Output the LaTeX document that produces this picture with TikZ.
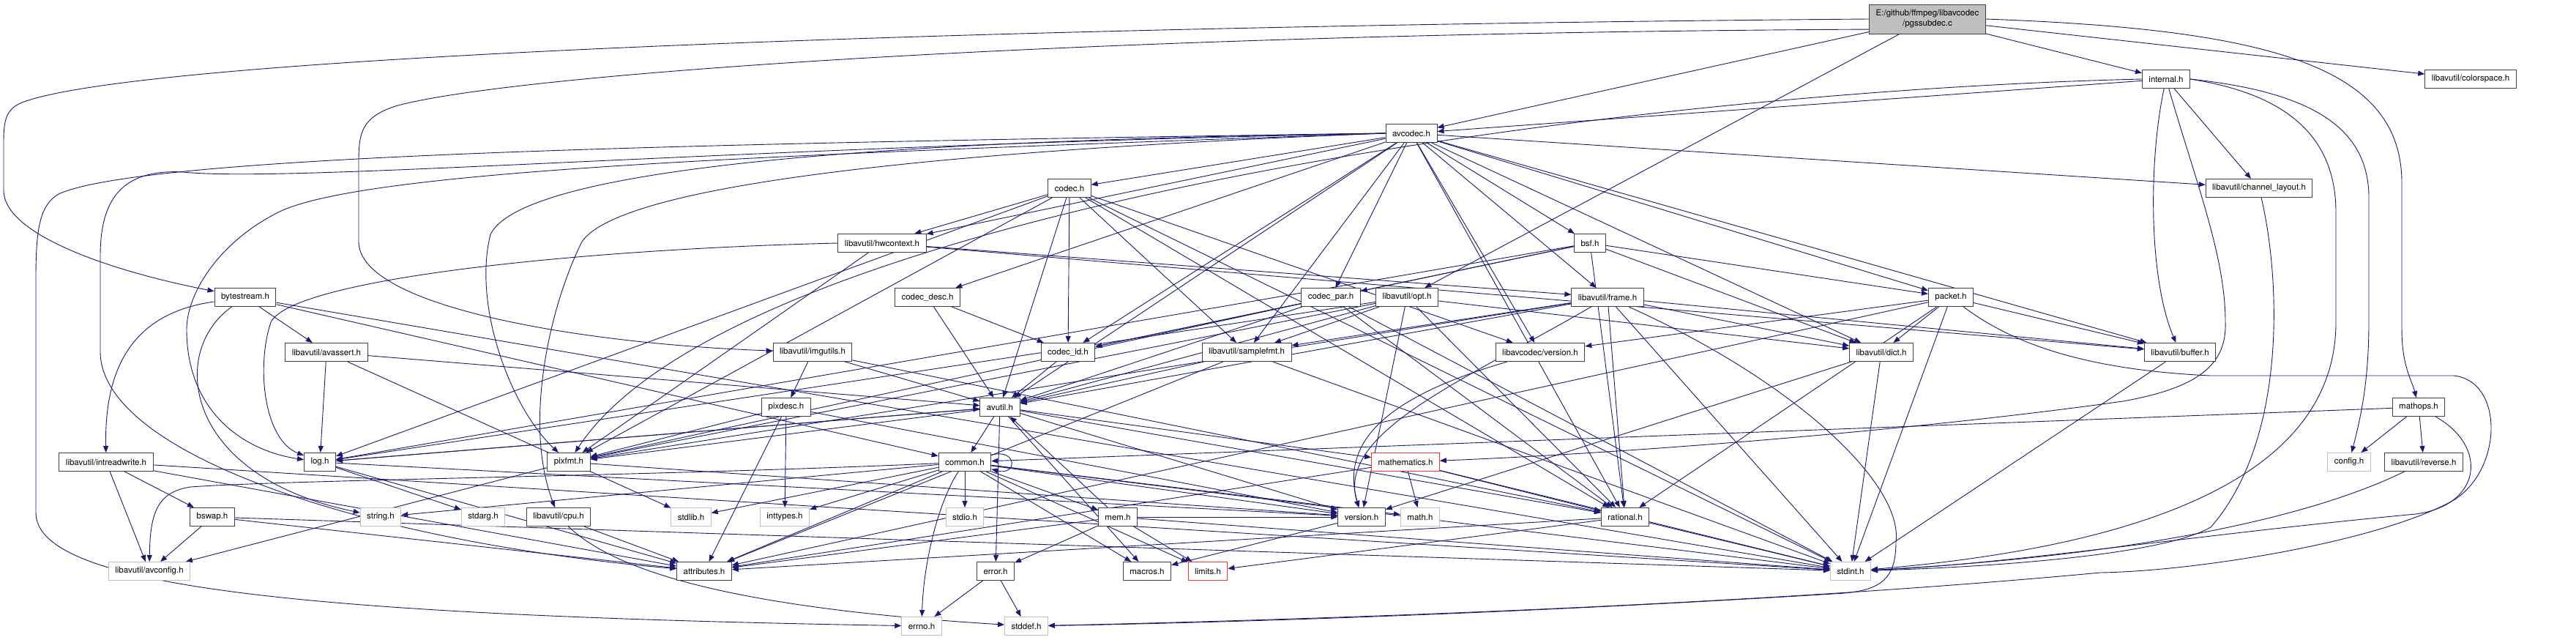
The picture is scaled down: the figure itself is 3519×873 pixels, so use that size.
\documentclass[tikz,border=0pt]{standalone}
\usepackage{fontspec}
\setmainfont{TeX Gyre Heros}
\usetikzlibrary{arrows.meta, backgrounds}
\definecolor{edgeblue}{HTML}{191970}
\definecolor{boxgray}{HTML}{404040}
\definecolor{sysgray}{HTML}{BFBFBF}
\definecolor{cutred}{HTML}{FF3030}
\tikzset{
  inc/.style ={rectangle, draw=boxgray, line width=1pt, fill=white,
               minimum height=25pt, inner xsep=9pt, inner ysep=2pt,
               font=\fontsize{11.5}{14}\selectfont},
  sys/.style ={inc, draw=sysgray},
  cut/.style ={inc, draw=cutred},
  src/.style ={inc, fill=sysgray, align=center, minimum height=40pt},
  arr/.style ={-{Triangle[length=9pt, width=7pt]}, draw=edgeblue, line width=0.9pt}
}

\begin{document}
\begin{tikzpicture}[x=1pt, y=-1pt]
  \useasboundingbox (0,0) rectangle (3519,873);
  % rows of headers
  \node[src] (root) at (2633,26) {E:/github/ffmpeg/libavcodec\\/pgssubdec.c};
  \node[inc] (internal) at (2959,108) {internal.h};
  \node[inc] (colorspace) at (3375,108) {libavutil/colorspace.h};
  \node[inc] (avcodec) at (1928,182) {avcodec.h};
  \node[inc] (codec) at (1461,257) {codec.h};
  \node[inc] (chlayout) at (3086,257) {libavutil/channel\_layout.h};
  \node[inc] (hwctx) at (1205,332) {libavutil/hwcontext.h};
  \node[inc] (bsf) at (2172,332) {bsf.h};
  \node[inc] (bytestream) at (335,406) {bytestream.h};
  \node[inc] (codecdesc) at (1267,406) {codec\_desc.h};
  \node[inc] (codecpar) at (1818,406) {codec\_par.h};
  \node[inc] (opt) at (1922,406) {libavutil/opt.h};
  \node[inc] (frame) at (2196,406) {libavutil/frame.h};
  \node[inc] (packet) at (2665,406) {packet.h};
  \node[inc] (avassert) at (446,481) {libavutil/avassert.h};
  \node[inc] (imgutils) at (1110,481) {libavutil/imgutils.h};
  \node[inc] (codecid) at (1459,481) {codec\_id.h};
  \node[inc] (samplefmt) at (1703,481) {libavutil/samplefmt.h};
  \node[inc] (lavcver) at (2104,481) {libavcodec/version.h};
  \node[inc] (dict) at (2570,481) {libavutil/dict.h};
  \node[inc] (buffer) at (2978,481) {libavutil/buffer.h};
  \node[inc] (pixdesc) at (1074,556) {pixdesc.h};
  \node[inc] (avutil) at (1366,556) {avutil.h};
  \node[inc] (mathops) at (3304,556) {mathops.h};
  \node[inc] (intrw) at (145,631) {libavutil/intreadwrite.h};
  \node[inc] (log) at (437,631) {log.h};
  \node[inc] (pixfmt) at (777,631) {pixfmt.h};
  \node[inc] (common) at (1318,631) {common.h};
  \node[cut] (mathematics) at (1920,631) {mathematics.h};
  \node[sys] (config) at (3209,631) {config.h};
  \node[inc] (reverse) at (3311,631) {libavutil/reverse.h};
  \node[inc] (bswap) at (290,706) {bswap.h};
  \node[sys] (string) at (520,706) {string.h};
  \node[sys] (stdarg) at (660,706) {stdarg.h};
  \node[inc] (cpu) at (763,706) {libavutil/cpu.h};
  \node[sys] (stdlib) at (944,706) {stdlib.h};
  \node[sys] (inttypes) at (1072,706) {inttypes.h};
  \node[sys] (stdio) at (1318,706) {stdio.h};
  \node[inc] (mem) at (1527,706) {mem.h};
  \node[inc] (version) at (1860,706) {version.h};
  \node[sys] (math) at (1940,706) {math.h};
  \node[inc] (rational) at (2220,706) {rational.h};
  \node[sys] (avconfig) at (204,780) {libavutil/avconfig.h};
  \node[inc] (attributes) at (962,780) {attributes.h};
  \node[inc] (error) at (1360,780) {error.h};
  \node[inc] (macros) at (1567,780) {macros.h};
  \node[cut] (limits) at (1650,780) {limits.h};
  \node[sys] (stdint) at (2528,780) {stdint.h};
  \node[sys] (errno) at (1259,855) {errno.h};
  \node[sys] (stddef) at (1402,855) {stddef.h};

  \begin{pgfonlayer}{background}
  \fill[white] (0,0) rectangle (3519,873);
  % straight includes
  \foreach \t in {avcodec, internal, colorspace, opt}
    \draw[arr] (root) -- (\t);
  \foreach \t in {avcodec, chlayout}
    \draw[arr] (internal) -- (\t);
  \foreach \t in {samplefmt, avutil, buffer, chlayout, dict, frame, hwctx,
                  rational, bsf, codec, codecdesc, codecpar, codecid, packet, lavcver}
    \draw[arr] (avcodec) -- (\t);
  \foreach \t in {stdint, avutil, hwctx, log, pixfmt, rational, samplefmt, codecid, lavcver}
    \draw[arr] (codec) -- (\t);
  \foreach \t in {buffer, frame, pixfmt}
    \draw[arr] (hwctx) -- (\t);
  \foreach \t in {dict, log, rational, codecid, codecpar, packet}
    \draw[arr] (bsf) -- (\t);
  \foreach \t in {avassert, common, stdint}
    \draw[arr] (bytestream) -- (\t);
  \foreach \t in {avutil, codecid}
    \draw[arr] (codecdesc) -- (\t);
  \foreach \t in {stdint, avutil, rational, pixfmt, codecid}
    \draw[arr] (codecpar) -- (\t);
  \foreach \t in {rational, avutil, dict, log, pixfmt, samplefmt, version}
    \draw[arr] (opt) -- (\t);
  \foreach \t in {stdint, avutil, buffer, dict, rational, samplefmt, pixfmt}
    \draw[arr] (frame) -- (\t);
  \foreach \t in {stdint, attributes, buffer, dict, rational, lavcver}
    \draw[arr] (packet) -- (\t);
  \foreach \t in {stdlib, avutil, log}
    \draw[arr] (avassert) -- (\t);
  \foreach \t in {avutil, pixdesc, rational}
    \draw[arr] (imgutils) -- (\t);
  \foreach \t in {stdint, avutil, attributes}
    \draw[arr] (samplefmt) -- (\t);
  \foreach \t in {stdint, version}
    \draw[arr] (dict) -- (\t);
  \foreach \t in {inttypes, attributes, pixfmt, version}
    \draw[arr] (pixdesc) -- (\t);
  \foreach \t in {common, error, rational, version, macros, mathematics, log, pixfmt}
    \draw[arr] (avutil) -- (\t);
  \foreach \t in {common, reverse, config}
    \draw[arr] (mathops) -- (\t);
  \foreach \t in {stdint, avconfig, attributes, bswap}
    \draw[arr] (intrw) -- (\t);
  \foreach \t in {stdarg, avutil, attributes, version}
    \draw[arr] (log) -- (\t);
  \foreach \t in {avconfig, version}
    \draw[arr] (pixfmt) -- (\t);
  \foreach \t in {inttypes, limits, math, stdint, stdio, stdlib, string,
                  attributes, macros, version, mem}
    \draw[arr] (common) -- (\t);
  \foreach \t in {stdint, math, attributes, rational}
    \draw[arr] (mathematics) -- (\t);
  \foreach \t in {stdint, avconfig, attributes}
    \draw[arr] (bswap) -- (\t);
  \foreach \t in {limits, stdint, attributes, error, avutil, version}
    \draw[arr] (mem) -- (\t);
  \foreach \t in {stdint, limits, attributes}
    \draw[arr] (rational) -- (\t);
  \foreach \t in {errno, stddef}
    \draw[arr] (error) -- (\t);
  \draw[arr] (codecid) -- (avutil);
  \draw[arr] (buffer) -- (stdint);
  \draw[arr] (version) -- (macros);
  \draw[arr] (cpu) -- (attributes);

  % routed includes
  \draw[arr] (root.west) .. controls (1400,35) and (200,75) .. (30,140)
    .. controls (5,150) and (5,170) .. (5,200) -- (5,260)
    .. controls (5,320) and (150,370) .. (bytestream);
  \draw[arr] (root.190) .. controls (1500,45) and (700,100) .. (540,145)
    .. controls (495,160) and (490,180) .. (490,220) -- (490,330)
    .. controls (490,420) and (800,470) .. (imgutils);
  \draw[arr] (root.east) .. controls (3100,40) and (3281,90) .. (3281,250) -- (3281,450)
    .. controls (3281,500) and (3295,520) .. (mathops);
  \draw[arr] (internal.west) .. controls (2200,125) and (1000,290) .. (pixfmt);
  \draw[arr] (internal) .. controls (2935,220) and (2935,380) .. (buffer);
  \draw[arr] (internal.east) .. controls (3150,125) and (3236,170) .. (3236,270) -- (3236,440)
    .. controls (3236,520) and (3225,570) .. (config);
  \draw[arr] (internal.east) .. controls (3100,125) and (3191,170) .. (3191,290) -- (3191,440)
    .. controls (3191,620) and (3000,740) .. (stdint);
  \draw[arr] (internal) .. controls (3000,250) and (3040,350) .. (3040,440)
    .. controls (3042,500) and (3000,530) .. (2900,548)
    .. controls (2600,590) and (2200,620) .. (mathematics);
  \draw[arr] (avcodec.west) .. controls (1000,195) and (200,210) .. (80,265)
    .. controls (55,280) and (49,310) .. (49,380) -- (49,700)
    .. controls (49,800) and (400,840) .. (errno);
  \draw[arr] (avcodec.west) .. controls (1000,200) and (400,250) .. (250,235)
    .. controls (160,230) and (137,280) .. (137,350) -- (137,480)
    .. controls (137,620) and (500,740) .. (attributes);
  \draw[arr] (avcodec.west) .. controls (1300,190) and (720,220) .. (670,320)
    .. controls (645,420) and (700,560) .. (pixfmt);
  \draw[arr] (avcodec.west) .. controls (1300,205) and (850,250) .. (795,330)
    .. controls (750,420) and (715,580) .. (cpu);
  \draw[arr] (avcodec.west) .. controls (1100,210) and (500,230) .. (380,290)
    .. controls (300,330) and (255,400) .. (255,450)
    .. controls (255,560) and (330,615) .. (log);
  \draw[arr] (hwctx.west) .. controls (800,340) and (400,380) .. (370,440)
    .. controls (350,500) and (360,600) .. (log);
  \draw[arr] (lavcver) .. controls (1900,540) and (1830,600) .. (version);
  \draw[arr] (frame) .. controls (2000,520) and (1825,590) .. (version);
  \draw[arr] (chlayout) .. controls (3115,380) and (3125,600) .. (3020,720)
    .. controls (2950,760) and (2700,775) .. (stdint);
  \draw[arr] (mathops) .. controls (3400,610) and (3390,690) .. (3300,702)
    .. controls (3000,730) and (2750,770) .. (stdint);
  \draw[arr] (reverse) .. controls (3150,710) and (2900,760) .. (stdint);
  \draw[arr] (packet) .. controls (2750,470) and (2850,505) .. (3019,513) -- (3352,513)
    .. controls (3420,520) and (3420,640) .. (3352,683)
    .. controls (3250,740) and (3000,780) .. (2869,782)
    .. controls (2400,826) and (1800,846) .. (stddef);
  \draw[arr] (frame) .. controls (2450,520) and (2600,660) .. (2590,740)
    .. controls (2590,790) and (2570,805) .. (2520,810)
    .. controls (2200,830) and (1800,848) .. (stddef);
  \draw[arr] (cpu) .. controls (840,780) and (1000,830) .. (stddef);
  \draw[arr] (common) .. controls (1285,680) and (1262,760) .. (errno);
  \draw[arr] (common) .. controls (900,650) and (400,655) .. (260,665)
    .. controls (215,672) and (205,700) .. (avconfig);
  \draw[arr] (common.15) .. controls (1390,612) and (1390,650) .. (common.-15);
  \draw[arr] (bytestream) .. controls (200,425) and (142,480) .. (intrw);
  \draw[arr] (bytestream) .. controls (230,480) and (250,650) .. (string);
  \end{pgfonlayer}
\end{tikzpicture}
\end{document}
